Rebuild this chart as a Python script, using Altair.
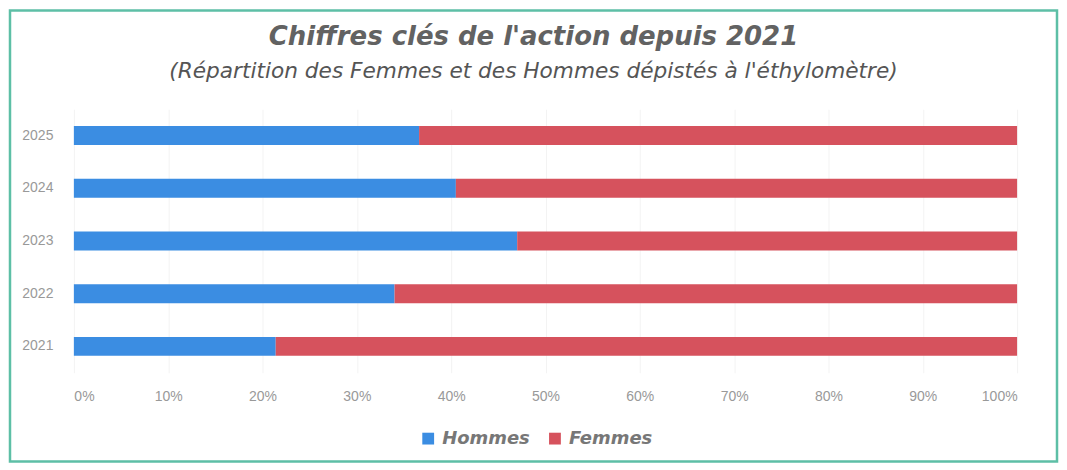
import altair as alt
import pandas as pd

years = ["2025", "2024", "2023", "2022", "2021"]
hommes = [36.6, 40.5, 47.0, 34.0, 21.4]
femmes = [round(100 - h, 1) for h in hommes]
series = ["Hommes", "Femmes"]
colors = ["#3B8DE2", "#D6525D"]

rows = []
for y, h, f in zip(years, hommes, femmes):
    rows.append({"year": y, "serie": "Hommes", "value": h, "ord": 0})
    rows.append({"year": y, "serie": "Femmes", "value": f, "ord": 1})
df = pd.DataFrame(rows)

W, H = 945, 264

bars = alt.Chart(df).mark_bar(size=19).encode(
    y=alt.Y("year:N", sort=years, title=None,
            scale=alt.Scale(paddingInner=0.64, paddingOuter=0.32),
            axis=alt.Axis(domain=False, ticks=False, labelPadding=21,
                          labelFont="Liberation Sans", labelFontSize=14,
                          labelColor="#999999")),
    x=alt.X("value:Q", stack="normalize", title=None,
            scale=alt.Scale(domain=[0, 1]),
            axis=alt.Axis(format=".0%", values=[i / 10 for i in range(11)],
                          domain=False, ticks=False, labelPadding=17,
                          labelFont="Liberation Sans", labelFontSize=14,
                          labelColor="#999999", grid=True, gridColor="#f3f3f3")),
    color=alt.Color("serie:N", sort=series,
                    scale=alt.Scale(domain=series, range=colors),
                    legend=alt.Legend(title=None, orient="none", direction="horizontal",
                                      legendX=346, legendY=321,
                                      symbolType="square", symbolSize=140,
                                      labelFont="DejaVu Sans", labelFontSize=18,
                                      labelFontStyle="italic", labelFontWeight="bold",
                                      labelColor="#777777", columnPadding=16,
                                      labelOffset=5, symbolStrokeWidth=0)),
    order=alt.Order("ord:Q"),
)

border = alt.Chart(pd.DataFrame({"a": [0]})).mark_rect(
    fill=None, stroke="#5DBFA6", strokeWidth=2.5, clip=False
).encode(
    x=alt.value(-64), x2=alt.value(W + 40),
    y=alt.value(-99), y2=alt.value(H + 89),
)

chart = alt.layer(bars, border).properties(
    width=W, height=H,
    title=alt.TitleParams(
        text="Chiffres clés de l'action depuis 2021",
        subtitle="(Répartition des Femmes et des Hommes dépistés à l'éthylomètre)",
        anchor="middle", frame="group", dx=-12, offset=-74,
        font="DejaVu Sans", fontSize=26, fontStyle="italic", fontWeight="bold",
        color="#626262",
        subtitleFont="DejaVu Sans", subtitleFontSize=21.7, subtitleFontStyle="italic",
        subtitleColor="#555555", subtitlePadding=11,
    ),
    padding=0,
).configure(background="white").configure_view(strokeWidth=0)

chart.save("out.html", embed_options={"renderer": "svg", "actions": False})
